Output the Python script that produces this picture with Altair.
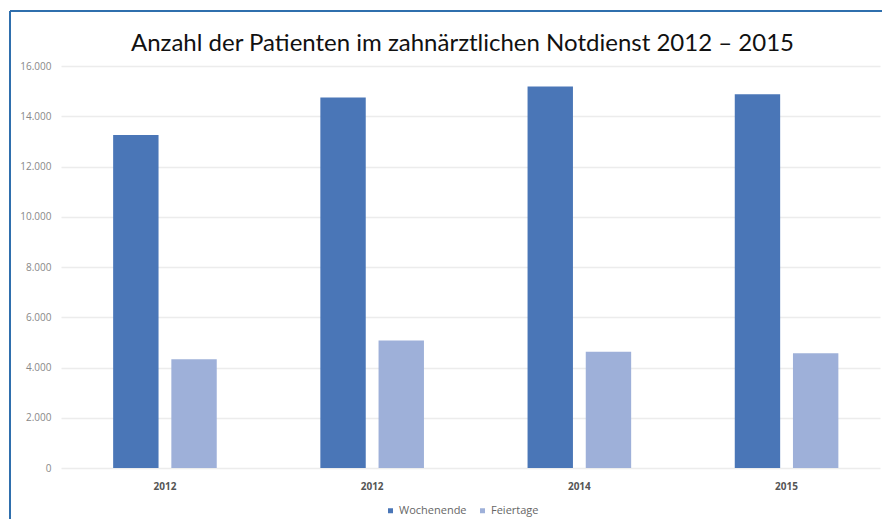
import altair as alt
import pandas as pd

years = ["2012a", "2013", "2014", "2015"]
year_labels = ["2012", "2012", "2014", "2015"]
wochenende = [13250, 14750, 15180, 14880]
feiertage = [4330, 5070, 4630, 4570]
series = ["Wochenende", "Feiertage"]
colors = ["#4a76b7", "#9eb0d9"]

rows = []
for y, w, f in zip(years, wochenende, feiertage):
    rows.append({"year": y, "serie": "Wochenende", "value": w})
    rows.append({"year": y, "serie": "Feiertage", "value": f})
df = pd.DataFrame(rows)

label_expr = "{" + ",".join(f"'{y}':'{l}'" for y, l in zip(years, year_labels)) + "}[datum.value]"

bars = alt.Chart(df).mark_bar().encode(
    x=alt.X("year:N", sort=years,
            scale=alt.Scale(paddingInner=0.5, paddingOuter=0.2263, align=0.556),
            axis=alt.Axis(title=None, labelExpr=label_expr, labelAngle=0,
                          labelFont="Open Sans", labelFontSize=10, labelFontWeight="bold",
                          labelColor="#555555", labelPadding=13, ticks=False,
                          domain=False)),
    xOffset=alt.XOffset("serie:N", sort=series,
                        scale=alt.Scale(paddingInner=0.22, paddingOuter=0)),
    y=alt.Y("value:Q", scale=alt.Scale(domain=[0, 16000], nice=False),
            axis=alt.Axis(title=None, values=list(range(0, 16001, 2000)),
                          labelExpr="replace(format(datum.value, ','), ',', '.')",
                          labelFont="Open Sans", labelFontSize=10, labelColor="#888888",
                          labelPadding=10, ticks=False, domain=False,
                          gridColor="#ececec", gridWidth=1.5)),
    color=alt.Color("serie:N", sort=series,
                    scale=alt.Scale(domain=series, range=colors),
                    legend=alt.Legend(title=None, orient="none", direction="horizontal",
                                      legendX=324, legendY=439, symbolType="square",
                                      symbolSize=25, labelFont="Open Sans", labelFontSize=11,
                                      labelColor="#666666", columnPadding=10,
                                      labelOffset=3)),
)

border_top = alt.Chart(pd.DataFrame({"a": [0]})).mark_rule(color="#2f6fad", strokeWidth=2).encode(
    x=alt.value(-51), x2=alt.value(821), y=alt.value(-55), y2=alt.value(-55))
border_left = alt.Chart(pd.DataFrame({"a": [0]})).mark_rule(color="#2f6fad", strokeWidth=2).encode(
    x=alt.value(-51), x2=alt.value(-51), y=alt.value(-55), y2=alt.value(453))

chart = alt.layer(bars, border_top, border_left).properties(
    width=819, height=402,
    padding={"left": 53, "top": 58, "right": 2, "bottom": 51},
    autosize=alt.AutoSizeParams(type="none"),
    title=alt.TitleParams("Anzahl der Patienten im zahnärztlichen Notdienst 2012 – 2015",
                          font="Lato", fontSize=24, fontWeight="normal", color="#111111",
                          anchor="middle", dx=-8, dy=58, offset=12),
).configure_view(stroke=None)

chart.save("out.html", embed_options={"renderer": "svg", "actions": False})
